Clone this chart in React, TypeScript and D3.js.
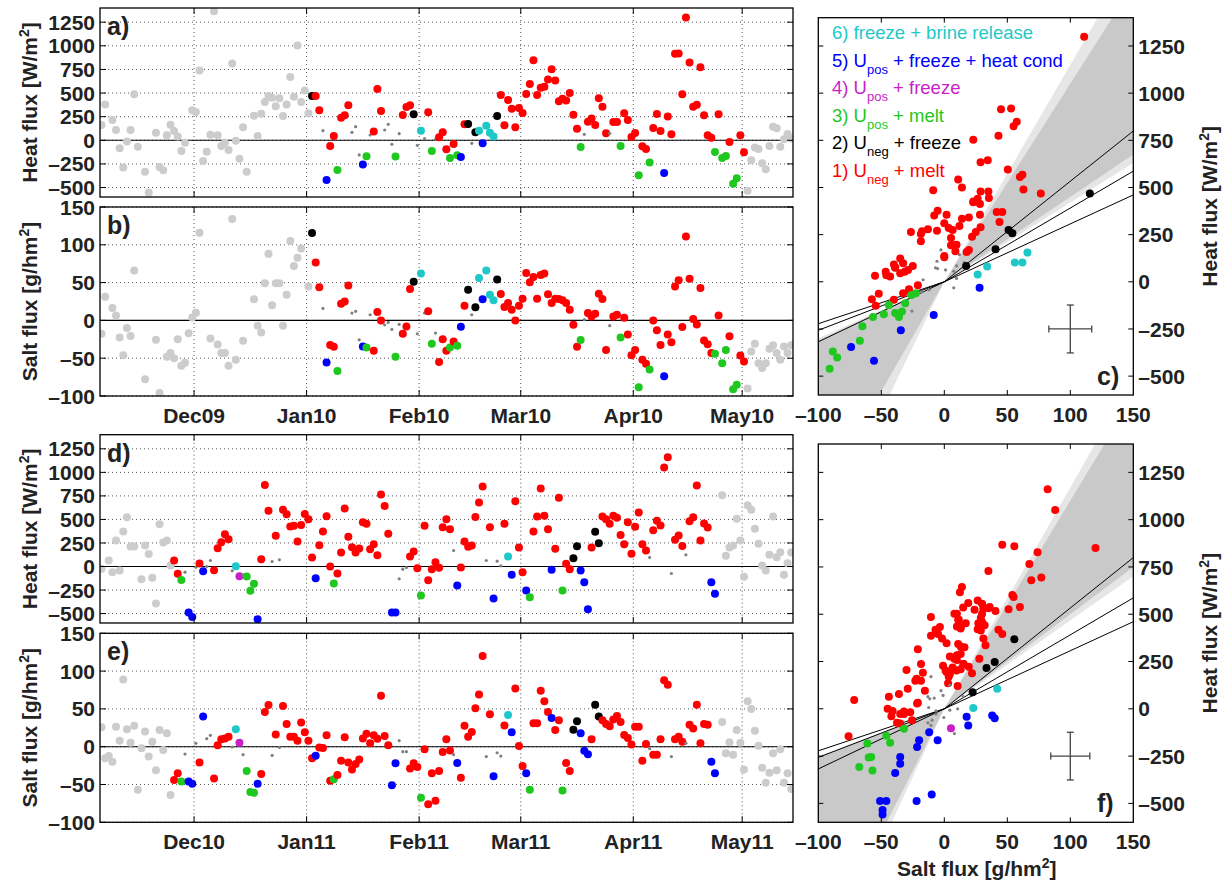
import React from 'react';
import * as d3 from 'd3';

const W = 1223, H = 885;
const FONT = '"Liberation Sans", Arial, Helvetica, sans-serif';

// class 0 = small grey dot (no class), 1..6 = legend classes
const classColors = ['#808080', '#ff0000', '#000000', '#1fc81f', '#c81fc8', '#0000ff', '#1fc8c8'];
const outsideColor = '#cccccc';

const legendItems = [
  { cls: 6, pre: '6) freeze + brine release', sub: '', post: '' },
  { cls: 5, pre: '5) U', sub: 'pos', post: ' + freeze + heat cond' },
  { cls: 4, pre: '4) U', sub: 'pos', post: ' + freeze' },
  { cls: 3, pre: '3) U', sub: 'pos', post: ' + melt' },
  { cls: 2, pre: '2) U', sub: 'neg', post: ' + freeze' },
  { cls: 1, pre: '1) U', sub: 'neg', post: ' + melt' },
];

const heatDomain = [-600, 1400];
const saltDomain = [-100, 150];
const heatTicks = [-500, -250, 0, 250, 500, 750, 1000, 1250];
const saltTicks = [-100, -50, 0, 50, 100, 150];

// reference lines (W/m2 per g/hm2), positive / negative salt flux side
const refSlopesPos = [5.33, 3.91, 3.07];
const refSlopesNeg = [3.18, 2.57, 2.22];
const wedge09 = { dark: { pos: [4.5, 10.5], neg: [3.1, 11.6] }, light: { pos: [4.2, 11.5], neg: [3.0, 13.8] } };
const wedge10 = { dark: { pos: [5.0, 11.0], neg: [2.6, 13.1] }, light: { pos: [4.67, 11.7], neg: [2.5, 14.4] } };
const errBar09 = { salt: 100, heat: -250, ds: 17, dh: 127 };
const errBar10 = { salt: 100, heat: -250, ds: 15.5, dh: 126 };

// [day since 1 Nov, heat W/m2, salt g/hm2] outside the analysed period
const gray09 = [
  [4, 162, -17.7], [5, 380, 31.4], [7, 215, 16.4], [8, 109, 6.6], [9, -84, -22.6], [10, -289, -46], [11, -14, -10.2],
  [12, 109, -20.8], [13, 486, 65.9], [14, -67, null], [16, -334, -78], [17, -553, null], [19, 81, -25.7], [20, -282, -96],
  [21, -317, null], [22, 53, -48], [23, 165, -43], [24, 99, -50], [25, 39, -25], [26, -113, -60], [27, -25, -56],
  [28, null, -17], [29, 317, 4], [30, 299, 10], [31, 739, 116], [32, -218, null], [33, -120, null], [34, 60, -24],
  [35, 1366, null], [36, 53, -32], [37, -60, -43], [38, -25, -43], [39, -102, -60], [40, 813, 134], [41, -4, -52],
  [42, -194, null], [43, 137, -27], [44, -334, null], [46, 260, 28], [47, 46, -7], [48, 282, -16], [49, 405, 49],
  [50, 468, 88], [51, 451, 20], [52, 359, 49], [53, 444, 49], [54, 257, -7], [55, 380, 34], [56, 669, 105],
  [57, 461, 72], [58, 1003, 83], [59, 405, 95], [60, 528, null], [61, 285, 45],
  [182, -535, -90], [183, -211, -41], [184, -77, -31], [185, -92, -56.6], [186, -243, -63], [187, -306, -56.6],
  [188, -60, -37.6], [189, 144, -33], [190, 127, -43], [191, -67, -52], [192, 11, -34.5], [193, 67, -43], [194, 18, -33],
];

// [day since 1 Nov, heat, salt, class]
const obs09 = [
  [62, 468, 115.5, 2], [63, 468, 76.6, 1], [64, 317, 43.8, 1], [65, 102, 15.9, 0], [66, -419, -55.8, 5], [67, -60, -32.7, 1],
  [68, 46, -35, 1], [69, -313, -67, 3], [70, 239, 22, 1], [71, 264, 25, 1], [72, 370, 46, 1], [73, 84, 9.7, 0],
  [74, 144, 12, 0], [75, -155, -25.7, 0], [76, -257, -34.5, 5], [77, -169, -36, 3], [78, 56, 7.5, 0], [79, 92, -40, 1],
  [80, 542, 11, 1], [81, 310, 0, 1], [82, 109, -5.8, 0], [83, 169, -2.7, 0], [84, -42, -12, 0], [85, -172, -48, 3],
  [86, 70, -5.3, 0], [87, 268, -17.7, 1], [88, 352, -8, 1], [89, 370, 41.6, 1], [90, 275, 51, 2], [91, -53, -17.7, 0],
  [92, 102, 62, 6], [93, 18, 9.7, 0], [94, 296, 12, 1], [95, -113, -31, 3], [96, 11, -16.8, 0], [97, 32, -55, 1],
  [98, 84, -25, 1], [99, -95, -40, 1], [100, -187, -36, 3], [101, -39, -28, 1], [102, -158, -33.6, 3], [103, -176, -8.4, 5],
  [104, 169, 19.5, 1], [105, 172, 40.7, 2], [106, -32, 7.5, 0], [107, 84, 17.3, 2], [108, 102, 56, 6], [109, -32, 28, 5],
  [110, 155, 66, 6], [111, 81, 34, 6], [112, 39, 26.5, 6], [113, 257, 54, 2], [114, 479, 35, 1], [115, 158, 17.7, 1],
  [116, 426, 23, 1], [117, 334, 14, 1], [118, 137, 0, 1], [119, 341, 19.5, 1], [120, 289, 28.8, 1], [121, 489, 62.8, 1],
  [122, 595, 50.4, 1], [123, 848, 57.5, 1], [124, 479, 28.8, 1], [125, 556, 60, 1], [126, 567, 62, 1], [127, 644, 34.5, 1],
  [128, 753, 23, 1], [129, 634, 28.8, 1], [130, 412, 28.3, 1], [131, 440, 26.5, 1], [132, 422, 23, 1], [133, 500, 14, 1],
  [134, 271, -5.8, 1], [135, 123, -35, 1], [136, -70, -26, 3], [137, 63, 1, 0], [138, 197, 9.7, 1], [139, 232, 5.3, 1],
  [140, 162, 8.8, 1], [141, 444, 35.4, 1], [142, 356, 28.3, 1], [143, 74, -39, 1], [144, 74, -7, 0], [145, 194, 5.3, 1],
  [146, 194, 7.5, 1], [147, -60, -22.6, 3], [148, 285, 3.5, 1], [149, 215, -18.6, 1], [150, 35, -46, 1], [151, 77, -39, 1],
  [152, -370, -88.5, 3], [153, -63, -52, 1], [154, -92, -57.5, 1], [155, -236, -65, 3], [156, 130, 0, 1], [157, 278, -13, 1],
  [158, 99, -32.7, 1], [159, -345, -74, 5], [160, 253, -18.6, 1], [161, 63, -28.8, 1], [162, 915, 45, 1], [163, 919, 53, 1],
  [164, 486, -8.8, 1], [165, 1299, 111, 1], [166, 824, 55, 1], [167, 356, 1.8, 1], [168, 377, -5.3, 1], [169, 774, 43, 1],
  [170, 264, -26.5, 1], [171, 53, -31.4, 1], [172, 28, -43, 1], [173, -123, -44, 3], [174, 275, 6.6, 1], [175, -187, -56.6, 3],
  [176, -165, -39, 3], [177, -18, -21, 1], [178, -461, -91, 3], [179, -401, -85, 3], [180, 53, -46.5, 1], [181, -127, -54.4, 1],
];

const gray10 = [
  [4, -25, 25.6], [5, null, -15.4], [6, 64, -12.4], [7, -60, -20], [8, 276, 26.5], [9, -42, 8], [10, 372, 89],
  [11, 524, 23], [12, 212, 5.3], [13, 212, 27.8], [14, null, -57], [15, -135, -2.2], [16, 223, 20], [17, 134, -13],
  [18, -120, 6.6], [19, -393, -31], [20, 450, 22], [21, 255, -4.4], [22, 276, 17.7], [23, 11, -64],
  [175, 758, 32.7], [176, 113, -8.8], [177, 202, 6], [178, 223, -10.6], [179, 506, 22], [180, 276, 5.3], [181, -110, -30],
  [182, 651, 60], [183, 602, 50], [184, 400, 21], [185, 241, 1.3], [186, 11, -28], [187, -42, -47.7], [188, 124, -34.4],
  [189, 531, -8.8], [190, 99, -31], [191, 152, -3.5], [192, -88, -47.7], [193, 35, -35], [194, 149, -56],
];

const obs10 = [
  [24, 64, -44, 1], [25, -78, -35, 1], [26, -142, -46, 3], [27, -60, -9.7, 0], [28, -488, -46, 5], [29, -535, -49, 5],
  [30, -7, 4.4, 0], [31, 32, -21, 1], [32, -50, 40, 5], [33, 0, 10.6, 0], [34, 64, 15, 0], [35, -39, -42, 1],
  [36, 195, 1.8, 1], [37, 258, 10, 1], [38, 343, 11, 1], [39, 290, 13, 1], [40, -46, -0.4, 0], [41, 4, 23, 6],
  [42, -103, 5.3, 4], [43, -88, -10.6, 0], [44, -106, -32, 3], [45, -258, -60, 3], [46, -184, -61, 3], [47, -559, -49, 5],
  [48, 78, -36, 1], [49, 867, 46, 1], [50, 591, 55, 1], [51, 53, -11.5, 0], [52, 326, 16, 1], [53, 71, -1, 0],
  [54, 602, 54, 1], [55, 556, 30, 1], [56, 425, 13, 1], [57, 432, 13, 1], [58, 265, 8, 1], [59, 442, 32, 1],
  [60, 559, 19, 1], [61, 503, 8, 1], [62, 96, -15.4, 1], [63, -124, -12, 5], [64, 227, -1, 1], [65, 372, -1.8, 1],
  [66, 535, 15, 1], [67, 0, -45, 1], [68, -180, -43, 3], [69, -74, -37.5, 1], [70, 149, -18.5, 1], [71, 616, 12.4, 1],
  [72, 315, -21, 1], [73, 205, -30, 1], [74, 149, -23, 1], [75, 191, -17, 1], [76, 471, 11, 1], [77, 453, 17, 1],
  [78, 184, 4.4, 1], [79, 237, 15, 1], [80, 120, 10.6, 1], [81, 765, 67.5, 1], [82, 644, 14, 1], [83, 347, 1.8, 1],
  [84, -488, -51, 5], [85, -488, -22, 5], [86, -131, 8, 0], [87, -28, -6.6, 0], [88, -11, -6.6, 0], [89, 106, -29, 1],
  [90, 159, -22, 1], [91, -18, -27, 1], [92, -308, -67.5, 3], [93, 432, -3.5, 1], [94, -145, -76, 1], [95, -28, -35, 1],
  [96, 46, -71.5, 1], [97, -14, -32, 1], [98, 418, -7, 1], [99, 503, 10, 1], [100, 396, -5, 1], [101, 170, -10.6, 0],
  [102, -202, -21.6, 5], [103, -11, -41, 1], [104, 265, 27.8, 1], [105, 209, 13, 1], [106, 223, 19.4, 1], [107, 527, 51, 1],
  [108, 680, 69, 1], [109, 850, 120, 1], [110, 64, -13, 0], [111, 418, 43, 1], [112, -340, -39, 5], [113, 57, -8, 0],
  [114, 7, -12.4, 0], [115, 453, 28, 1], [116, 106, 42, 6], [117, -88, 19, 5], [118, 694, 77, 1], [119, 202, 1, 1],
  [120, -60, -25.6, 1], [121, -255, -35, 5], [122, -326, -57, 3], [123, 372, 31, 1], [124, 531, 31, 1], [125, 828, 74, 1],
  [126, 538, 60, 1], [127, 396, 46, 1], [128, -35, 38, 5], [129, 188, 22, 1], [130, 729, 35, 1], [131, -255, -58, 3],
  [132, 28, -21.6, 1], [133, -28, -32, 1], [134, 88, 22.5, 2], [135, 216, 33.5, 2], [136, -42, 17.7, 5], [137, -166, -5.3, 5],
  [138, -453, -10, 5], [139, 202, 9.7, 1], [140, 368, 55.6, 2], [141, 248, 40, 2], [142, 531, 35, 1], [143, 503, 30, 1],
  [144, 453, 27, 1], [145, 538, 36, 1], [146, 517, 40.6, 1], [147, 336, 32.7, 1], [148, 237, 15.4, 1], [149, 471, 11.5, 1],
  [150, 135, 3, 1], [151, 421, 26.5, 1], [152, 573, 26.5, 1], [153, 237, -18.5, 1], [154, 170, 3.5, 1], [155, 96, -2.6, 0],
  [156, 386, -10.6, 1], [157, 485, -10.6, 1], [158, 435, 10, 1], [159, 1051, 88, 1], [160, 1161, 82, 1], [161, -74, -13, 0],
  [162, 283, 10, 1], [163, 329, 13, 1], [164, 219, 6.6, 1], [165, 124, 4.4, 0], [166, 481, 29, 1], [167, 524, 24, 1],
  [168, 860, 55.6, 1], [169, 276, 4.4, 1], [170, 457, 30, 1], [171, 414, 29, 1], [172, -166, -20, 5], [173, -290, -35, 5],
];

const X0 = 100, X1 = 793;
const SX0 = 818.3, SX1 = 1133.3;
const R_BIG = 4, R_SMALL = 1.6;

const fmt = (v: number) => (v < 0 ? '\u2013' + Math.abs(v) : String(v));

function Sup({ s }: { s: string }) {
  return (
    <>
      <tspan dy={-8} fontSize={14}>{s}</tspan>
      <tspan dy={8}>]</tspan>
    </>
  );
}

function TimePanel(props: any) {
  const { id, year, y0, y1, col, domain, ticks, gray, obs, title, unit, letter, showX } = props;
  const x = d3.scaleTime().domain([new Date(year, 10, 5, 2), new Date(year + 1, 4, 15)]).range([X0, X1]);
  const y = d3.scaleLinear().domain(domain).range([y1, y0]);
  const when = (d: number) => new Date(year, 10, 1 + d, 12);
  const months = d3.timeMonth.range(new Date(year, 11, 1), new Date(year + 1, 4, 2));
  const fmtMonth = d3.timeFormat('%b%y');
  const tl = 6;
  return (
    <g>
      <defs>
        <clipPath id={id}><rect x={X0} y={y0} width={X1 - X0} height={y1 - y0} /></clipPath>
      </defs>
      <g stroke="#444" strokeWidth={0.9} strokeDasharray="1,3">
        {ticks.map((t: number) => <line key={'gy' + t} x1={X0} x2={X1} y1={y(t)} y2={y(t)} />)}
        {months.map((m: Date, i: number) => <line key={'gx' + i} x1={x(m)} x2={x(m)} y1={y0} y2={y1} />)}
      </g>
      <line x1={X0} x2={X1} y1={y(0)} y2={y(0)} stroke="#000" strokeWidth={1.1} />
      <g clipPath={`url(#${id})`}>
        {gray.filter((r: any) => r[col] != null).map((r: any, i: number) =>
          <circle key={'g' + i} cx={x(when(r[0]))} cy={y(r[col])} r={R_BIG} fill={outsideColor} />)}
        {obs.map((r: any, i: number) =>
          <circle key={'o' + i} cx={x(when(r[0]))} cy={y(r[col])} r={r[3] === 0 ? R_SMALL : R_BIG} fill={classColors[r[3]]} />)}
      </g>
      <g stroke="#000" strokeWidth={1}>
        {ticks.map((t: number) => (
          <g key={'t' + t}>
            <line x1={X0} x2={X0 + tl} y1={y(t)} y2={y(t)} />
            <line x1={X1} x2={X1 - tl} y1={y(t)} y2={y(t)} />
          </g>
        ))}
        {months.map((m: Date, i: number) => (
          <g key={'tm' + i}>
            <line x1={x(m)} x2={x(m)} y1={y0} y2={y0 + tl} />
            <line x1={x(m)} x2={x(m)} y1={y1} y2={y1 - tl} />
          </g>
        ))}
      </g>
      <rect x={X0} y={y0} width={X1 - X0} height={y1 - y0} fill="none" stroke="#000" strokeWidth={1.3} />
      <g fontFamily={FONT} fontWeight="bold" fontSize={21} fill="#222">
        {ticks.map((t: number) => (
          <text key={'l' + t} x={95} y={y(t)} dy="0.36em" textAnchor="end">{fmt(t)}</text>
        ))}
        {showX && months.map((m: Date, i: number) => (
          <text key={'lx' + i} x={x(m)} y={y1 + 27} textAnchor="middle">{fmtMonth(m)}</text>
        ))}
        <text transform={`translate(37,${(y0 + y1) / 2}) rotate(-90)`} textAnchor="middle">
          {title} [{unit}<Sup s="2" />
        </text>
        <text x={107} y={y0 + 27} fontSize={25}>{letter}</text>
      </g>
    </g>
  );
}

function ScatterPanel(props: any) {
  const { id, y0, y1, obs, wedge, err, letter, legend, xTitle } = props;
  const x = d3.scaleLinear().domain(saltDomain).range([SX0, SX1]);
  const y = d3.scaleLinear().domain(heatDomain).range([y1, y0]);
  const far = 1000;
  const ray = (s: number, sign: number) => [x(sign * far), y(sign * far * s)];
  const tri = (sl: number[], sign: number) =>
    [[x(0), y(0)], ray(sl[0], sign), ray(sl[1], sign)].map(p => p.join(',')).join(' ');
  const tl = 5;
  const xt = [-50, 0, 50, 100];
  const yt = heatTicks;
  const cx = x(err.salt), cy = y(err.heat);
  const ex0 = x(err.salt - err.ds), ex1 = x(err.salt + err.ds);
  const ey0 = y(err.heat + err.dh), ey1 = y(err.heat - err.dh);
  return (
    <g>
      <defs>
        <clipPath id={id}><rect x={SX0} y={y0} width={SX1 - SX0} height={y1 - y0} /></clipPath>
      </defs>
      <g clipPath={`url(#${id})`}>
        <polygon points={tri(wedge.light.pos, 1)} fill="#e6e6e6" />
        <polygon points={tri(wedge.light.neg, -1)} fill="#e6e6e6" />
        <polygon points={tri(wedge.dark.pos, 1)} fill="#c9c9c9" />
        <polygon points={tri(wedge.dark.neg, -1)} fill="#c9c9c9" />
        <g stroke="#000" strokeWidth={1}>
          {refSlopesPos.map((s, i) => <line key={'p' + i} x1={x(0)} y1={y(0)} x2={x(150)} y2={y(150 * s)} />)}
          {refSlopesNeg.map((s, i) => <line key={'n' + i} x1={x(0)} y1={y(0)} x2={x(-100)} y2={y(-100 * s)} />)}
        </g>
        {obs.map((r: any, i: number) =>
          <circle key={'o' + i} cx={x(r[2])} cy={y(r[1])} r={r[3] === 0 ? R_SMALL : R_BIG} fill={classColors[r[3]]} />)}
      </g>
      <g stroke="#444" strokeWidth={1.3}>
        <line x1={cx} x2={cx} y1={ey0} y2={ey1} />
        <line x1={ex0} x2={ex1} y1={cy} y2={cy} />
        <line x1={cx - 3.5} x2={cx + 3.5} y1={ey0} y2={ey0} />
        <line x1={cx - 3.5} x2={cx + 3.5} y1={ey1} y2={ey1} />
        <line x1={ex0} x2={ex0} y1={cy - 3.5} y2={cy + 3.5} />
        <line x1={ex1} x2={ex1} y1={cy - 3.5} y2={cy + 3.5} />
      </g>
      <g stroke="#000" strokeWidth={1}>
        {xt.map(t => (
          <g key={'xt' + t}>
            <line x1={x(t)} x2={x(t)} y1={y0} y2={y0 + tl} />
            <line x1={x(t)} x2={x(t)} y1={y1} y2={y1 - tl} />
          </g>
        ))}
        {yt.map(t => (
          <g key={'yt' + t}>
            <line x1={SX0} x2={SX0 + tl} y1={y(t)} y2={y(t)} />
            <line x1={SX1} x2={SX1 - tl} y1={y(t)} y2={y(t)} />
          </g>
        ))}
      </g>
      <rect x={SX0} y={y0} width={SX1 - SX0} height={y1 - y0} fill="none" stroke="#000" strokeWidth={1.3} />
      <g fontFamily={FONT} fontWeight="bold" fontSize={21} fill="#222">
        {saltTicks.map(t => (
          <text key={'lx' + t} x={x(t)} y={y1 + 27} textAnchor="middle">{fmt(t)}</text>
        ))}
        {yt.map(t => (
          <text key={'ly' + t} x={SX1 + 5} y={y(t)} dy="0.36em">{fmt(t)}</text>
        ))}
        <text transform={`translate(1217,${(y0 + y1) / 2}) rotate(-90)`} textAnchor="middle">
          Heat flux [W/m<Sup s="2" />
        </text>
        <text x={1097} y={y1 - 10} fontSize={25}>{letter}</text>
        {xTitle && (
          <text x={(SX0 + SX1) / 2 + 1} y={876} textAnchor="middle">
            Salt flux [g/hm<Sup s="2" />
          </text>
        )}
      </g>
      {legend && (
        <g fontFamily={FONT} fontSize={18.5}>
          {legendItems.map((it, i) => (
            <text key={'lg' + i} x={832} y={y0 + 21.5 + i * 27.5} fill={classColors[it.cls]}>
              {it.pre}
              {it.sub && <tspan dy={7} fontSize={13}>{it.sub}</tspan>}
              {it.sub && <tspan dy={-7}>{it.post}</tspan>}
            </text>
          ))}
        </g>
      )}
    </g>
  );
}

export default function App() {
  return (
    <svg width={W} height={H} style={{ position: 'absolute', left: 0, top: 0, background: '#fff' }}>
      <rect width={W} height={H} fill="#fff" />
      <TimePanel id="pa" year={2009} y0={8} y1={197} col={1} domain={heatDomain} ticks={heatTicks}
        gray={gray09} obs={obs09} title="Heat flux" unit="W/m" letter="a)" showX={false} />
      <TimePanel id="pb" year={2009} y0={207} y1={396} col={2} domain={saltDomain} ticks={saltTicks}
        gray={gray09} obs={obs09} title="Salt flux" unit="g/hm" letter="b)" showX={true} />
      <TimePanel id="pd" year={2010} y0={434.7} y1={623} col={1} domain={heatDomain} ticks={heatTicks}
        gray={gray10} obs={obs10} title="Heat flux" unit="W/m" letter="d)" showX={false} />
      <TimePanel id="pe" year={2010} y0={633.3} y1={822.3} col={2} domain={saltDomain} ticks={saltTicks}
        gray={gray10} obs={obs10} title="Salt flux" unit="g/hm" letter="e)" showX={true} />
      <ScatterPanel id="pc" y0={17.7} y1={395} obs={obs09} wedge={wedge09} err={errBar09} letter="c)" legend={true} xTitle={false} />
      <ScatterPanel id="pf" y0={444} y1={822.3} obs={obs10} wedge={wedge10} err={errBar10} letter="f)" legend={false} xTitle={true} />
    </svg>
  );
}
